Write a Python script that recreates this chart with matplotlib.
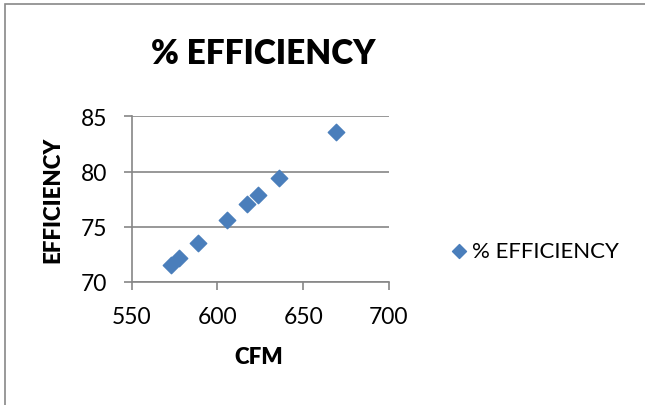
import matplotlib
matplotlib.use('Agg')
import matplotlib.pyplot as plt
from matplotlib.patches import Rectangle

# values
cfm = [572.8, 577.8, 588.5, 605.5, 617.1, 623.6, 636.0, 669.1]
efficiency = [71.5, 72.2, 73.5, 75.65, 77.1, 77.85, 79.4, 83.6]
series_name = '% EFFICIENCY'
x_ticks = [550, 600, 650, 700]
y_ticks = [70, 75, 80, 85]

plt.rcParams['font.family'] = ['Lato', 'DejaVu Sans']

fig = plt.figure(figsize=(6.45, 4.06), dpi=100)
# outer chart border (only left and top edges are visible in the crop)
fig.patches.append(Rectangle((0.008, -0.1), 1.5, 1.088, transform=fig.transFigure,
                             fill=False, edgecolor='#888888', linewidth=1.2))

ax = fig.add_axes([0.204, 0.303, 0.399, 0.408])
ax.scatter(cfm, efficiency, marker='D', s=70, color='#4a7ebb', edgecolor='#4a7ebb',
           label=series_name, zorder=3)

ax.set_xlim(550, 700)
ax.set_ylim(70, 85)
ax.set_xticks(x_ticks)
ax.set_yticks(y_ticks)
ax.yaxis.grid(True, color='#868686', linewidth=1.2)
ax.set_axisbelow(True)
for side in ['top', 'right']:
    ax.spines[side].set_visible(False)
for side in ['left', 'bottom']:
    ax.spines[side].set_color('#868686')
    ax.spines[side].set_linewidth(1.2)
ax.tick_params(axis='both', colors='#868686', length=5.5, width=1.2,
               labelsize=16.5, labelcolor='black')
ax.tick_params(axis='x', pad=12)
ax.tick_params(axis='y', pad=12)

ax.set_xlabel('CFM', fontsize=16, fontweight='heavy')
ax.set_ylabel('EFFICIENCY', fontsize=16, fontweight='heavy')
ax.xaxis.set_label_coords(0.495, -0.452)
ax.yaxis.set_label_coords(-0.306, 0.5)
ax.xaxis.label.set_va('center')
ax.yaxis.label.set_va('center')
fig.text(0.408, 0.867, '% EFFICIENCY', ha='center', va='center',
         fontsize=24, fontweight='heavy')

fig.legend(loc='center left', bbox_to_anchor=(0.677, 0.38), frameon=False,
           fontsize=16, handletextpad=0.1, handlelength=1.0, borderpad=0,
           markerscale=0.85)

fig.savefig('out.png', dpi=100)
